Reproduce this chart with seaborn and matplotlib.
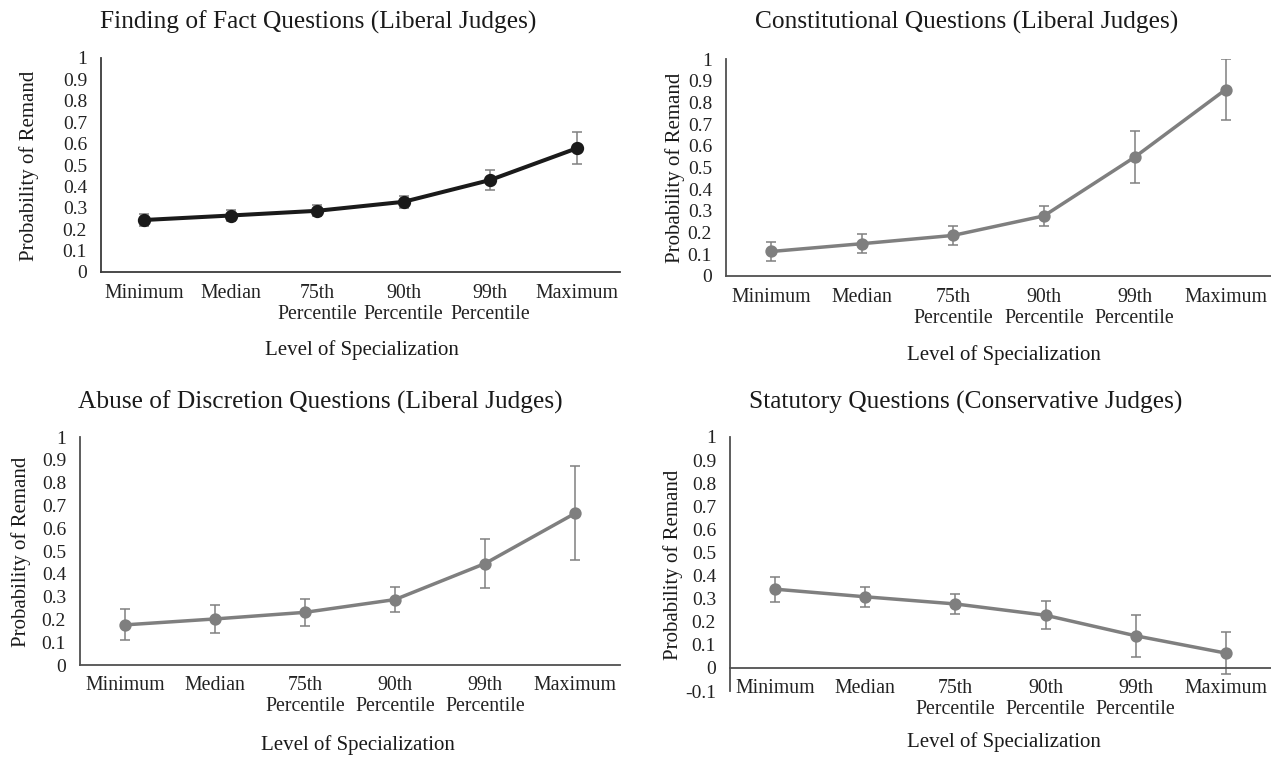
import numpy as np
import pandas as pd
import matplotlib
matplotlib.use("Agg")
import matplotlib.pyplot as plt
import seaborn as sns

# ---------------- data ----------------
categories = ["Minimum", "Median", "75th\nPercentile", "90th\nPercentile",
              "99th\nPercentile", "Maximum"]

fact_vals = [0.243, 0.264, 0.286, 0.328, 0.430, 0.578]
fact_err = [0.026, 0.025, 0.025, 0.028, 0.047, 0.074]

const_vals = [0.113, 0.149, 0.187, 0.277, 0.548, 0.859]
const_err = [0.045, 0.043, 0.042, 0.045, 0.120, 0.140]

abuse_vals = [0.176, 0.202, 0.231, 0.287, 0.445, 0.665]
abuse_err = [0.068, 0.063, 0.059, 0.056, 0.108, 0.206]

stat_vals = [0.341, 0.308, 0.277, 0.228, 0.139, 0.064]
stat_err = [0.054, 0.043, 0.044, 0.060, 0.092, 0.090]

titles = ["Finding of Fact Questions (Liberal Judges)",
          "Constitutional Questions (Liberal Judges)",
          "Abuse of Discretion Questions (Liberal Judges)",
          "Statutory Questions (Conservative Judges)"]
ylabel = "Probability of Remand"
xlabel = "Level of Specialization"

# ---------------- style ----------------
sns.set_theme(style="white")
plt.rcParams["font.family"] = ["Liberation Serif", "DejaVu Serif"]

W, H = 1271, 757
fig = plt.figure(figsize=(W / 100, H / 100), dpi=100)
fig.patch.set_facecolor("white")


def px_axes(left, right, top, bottom):
    return fig.add_axes([left / W, 1 - bottom / H, (right - left) / W, (bottom - top) / H])


def ftext(x, y, s, **kw):
    fig.text(x / W, 1 - y / H, s, ha="center", va="center", **kw)


panels = [
    dict(vals=fact_vals, err=fact_err, color="#1a1a1a", lw=2.9, ms=7.4, box=(101, 620, 58, 272),
         ymin=0.0, title=(318, 22), ylab=(29, 166), xlab=(362, 350), spine="#3a3a3a", xpad=9),
    dict(vals=const_vals, err=const_err, color="#7f7f7f", lw=2.5, ms=7.0, box=(726, 1271, 59, 276),
         ymin=0.0, title=(967, 22), ylab=(675, 168), xlab=(1004, 355), spine="#505050", xpad=9),
    dict(vals=abuse_vals, err=abuse_err, color="#7f7f7f", lw=2.5, ms=7.0, box=(80, 620, 437, 665),
         ymin=0.0, title=(320, 402), ylab=(21, 552), xlab=(358, 745), spine="#505050", xpad=8),
    dict(vals=stat_vals, err=stat_err, color="#7f7f7f", lw=2.5, ms=7.0, box=(730, 1271, 437, 691),
         ymin=-0.1, title=(966, 402), ylab=(673, 565), xlab=(1004, 742), spine="#505050", xpad=8),
]

for p, title in zip(panels, titles):
    ax = px_axes(*p["box"])
    for s in ["top", "right"]:
        ax.spines[s].set_visible(False)
    if p["ymin"] < 0:
        ax.spines["bottom"].set_position(("data", 0))
    df = pd.DataFrame({"level": categories, "prob": p["vals"]})
    xs = np.arange(len(categories))
    ax.errorbar(xs, p["vals"], yerr=p["err"], fmt="none", ecolor="#808080",
                elinewidth=1.1, capsize=3.8, capthick=1.1, zorder=1)
    sns.pointplot(data=df, x="level", y="prob", color=p["color"], markers="o",
                  linestyles="-", errorbar=None, ax=ax, linewidth=p["lw"],
                  markersize=p["ms"], zorder=3)
    ax.set_xlim(-0.5, len(categories) - 0.5)
    ax.set_ylim(p["ymin"], 1.0)
    yt = np.round(np.arange(p["ymin"], 1.0001, 0.1), 1)
    ax.set_yticks(yt)
    ax.set_yticklabels([f"{v:g}" for v in yt], fontsize=14)
    ax.set_xticks(xs)
    ax.set_xticklabels(categories, fontsize=14.3, linespacing=1.12)
    ax.tick_params(axis="both", length=0, colors="#222222")
    ax.tick_params(axis="y", pad=10)
    ax.tick_params(axis="x", pad=p["xpad"])
    ax.set_xlabel("")
    ax.set_ylabel("")
    for s in ["left", "bottom"]:
        ax.spines[s].set_color(p["spine"])
        ax.spines[s].set_linewidth(1.3)
    ax.set_facecolor("white")
    ax.grid(False)

    ftext(*p["title"], title, fontsize=18.3, color="#1a1a1a")
    ftext(*p["ylab"], ylabel, fontsize=15, rotation=90, color="#1a1a1a")
    ftext(*p["xlab"], xlabel, fontsize=15, color="#1a1a1a")

fig.savefig("out.png", dpi=100, facecolor="white")
